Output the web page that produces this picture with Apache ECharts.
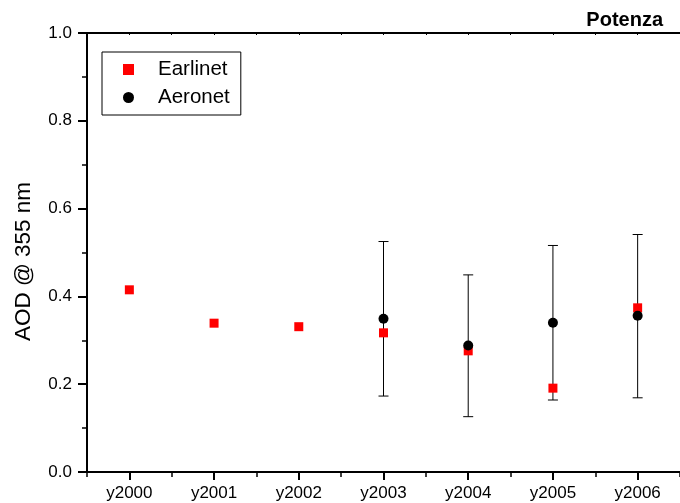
<!DOCTYPE html>
<html>
<head>
<meta charset="utf-8">
<script src="https://cdn.jsdelivr.net/npm/echarts@6/dist/echarts.min.js"></script>
<style>
html,body{margin:0;padding:0;background:#fff;}
#chart{width:680px;height:503px;}
</style>
</head>
<body>
<div id="chart"></div>
<script>
var categories = ['y2000', 'y2001', 'y2002', 'y2003', 'y2004', 'y2005', 'y2006'];
var earlinet = [0.415, 0.339, 0.331, 0.317, 0.276, 0.191, 0.374];
var aeronet = [null, null, null, 0.349, 0.288, 0.340, 0.356];
var aeronetLow = [null, null, null, 0.173, 0.126, 0.164, 0.169];
var aeronetHigh = [null, null, null, 0.525, 0.449, 0.516, 0.541];
var yTicks = [0, 0.2, 0.4, 0.6, 0.8, 1.0];

var FONT = 'Liberation Sans, Arial, sans-serif';

var errData = [];
for (var i = 0; i < categories.length; i++) {
  if (aeronetLow[i] != null) errData.push([i, aeronetLow[i], aeronetHigh[i]]);
}

var chart = echarts.init(document.getElementById('chart'), null, {renderer: 'canvas'});
var axisBase = {
  type: 'category',
  data: categories,
  boundaryGap: true,
  gridIndex: 0
};
chart.setOption({
  animation: false,
  backgroundColor: '#ffffff',
  textStyle: {fontFamily: FONT},
  title: {
    text: 'Potenza',
    right: 12,
    top: 5,
    textStyle: {fontFamily: FONT, fontSize: 20, fontWeight: 'bold', color: '#000'}
  },
  legend: {
    orient: 'vertical',
    left: 102,
    top: 52,
    padding: [7, 11, 7, 21],
    itemGap: 7,
    itemWidth: 11,
    itemHeight: 11,
    borderColor: '#000',
    borderWidth: 1,
    borderRadius: 0,
    data: [
      {name: 'Earlinet', icon: 'rect', itemStyle: {color: '#ff0000', opacity: 1}},
      {name: 'Aeronet', icon: 'circle', itemStyle: {color: '#000000', opacity: 1}}
    ],
    textStyle: {fontFamily: FONT, fontSize: 20.5, color: '#000', padding: [0, 0, 0, 19]}
  },
  grid: {left: 87, right: 0, top: 33, bottom: 31, containLabel: false},
  xAxis: [
    Object.assign({}, axisBase, {
      position: 'bottom',
      axisLine: {show: true, lineStyle: {color: '#000', width: 2}},
      axisTick: {show: true, alignWithLabel: true, inside: false, length: 8, lineStyle: {color: '#000', width: 2}},
      axisLabel: {show: true, color: '#000', fontSize: 17, fontFamily: FONT, margin: 13},
      splitLine: {show: false}
    }),
    Object.assign({}, axisBase, {
      position: 'bottom',
      axisLine: {show: false},
      axisTick: {show: true, alignWithLabel: false, inside: false, length: 5, lineStyle: {color: '#000', width: 1.5}},
      axisLabel: {show: false},
      splitLine: {show: false}
    }),
    Object.assign({}, axisBase, {
      position: 'top',
      axisLine: {show: true, lineStyle: {color: '#000', width: 2}},
      axisTick: {show: true, alignWithLabel: true, inside: true, length: 2, lineStyle: {color: '#000', width: 1}},
      axisLabel: {show: false},
      splitLine: {show: false}
    }),
    Object.assign({}, axisBase, {
      position: 'top',
      axisLine: {show: false},
      axisTick: {show: true, alignWithLabel: false, inside: true, length: 2, lineStyle: {color: '#000', width: 1}},
      axisLabel: {show: false},
      splitLine: {show: false}
    })
  ],
  yAxis: {
    type: 'value',
    min: yTicks[0],
    max: yTicks[yTicks.length - 1],
    interval: 0.2,
    name: 'AOD @ 355 nm',
    nameLocation: 'middle',
    nameGap: 52,
    nameRotate: 90,
    nameTextStyle: {fontFamily: FONT, fontSize: 22.5, color: '#000', padding: [0, 18, 0, 0]},
    axisLine: {show: true, lineStyle: {color: '#000', width: 2}},
    axisTick: {show: true, inside: false, length: 9, lineStyle: {color: '#000', width: 2}},
    minorTick: {show: true, splitNumber: 2, length: 5, lineStyle: {color: '#000', width: 1.5}},
    axisLabel: {color: '#000', fontSize: 17, fontFamily: FONT, margin: 15,
      formatter: function (v) { return v.toFixed(1); }},
    splitLine: {show: false},
    minorSplitLine: {show: false}
  },
  series: [
    {
      type: 'custom',
      name: 'err',
      xAxisIndex: 0,
      z: 1,
      data: errData,
      renderItem: function (params, api) {
        var x = api.value(0);
        var lo = api.coord([x, api.value(1)]);
        var hi = api.coord([x, api.value(2)]);
        var hw = 5;
        var st = {stroke: '#000', lineWidth: 1};
        return {
          type: 'group',
          children: [
            {type: 'line', shape: {x1: lo[0], y1: lo[1], x2: hi[0], y2: hi[1]}, style: st},
            {type: 'line', shape: {x1: hi[0] - hw, y1: hi[1], x2: hi[0] + hw, y2: hi[1]}, style: st},
            {type: 'line', shape: {x1: lo[0] - hw, y1: lo[1], x2: lo[0] + hw, y2: lo[1]}, style: st}
          ]
        };
      }
    },
    {
      type: 'scatter',
      name: 'Earlinet',
      xAxisIndex: 0,
      z: 2,
      symbol: 'rect',
      symbolSize: 9,
      itemStyle: {color: '#ff0000', opacity: 1},
      data: earlinet
    },
    {
      type: 'scatter',
      name: 'Aeronet',
      xAxisIndex: 0,
      z: 3,
      symbol: 'circle',
      symbolSize: 10,
      itemStyle: {color: '#000000', opacity: 1},
      data: aeronet
    }
  ]
});
</script>
</body>
</html>
